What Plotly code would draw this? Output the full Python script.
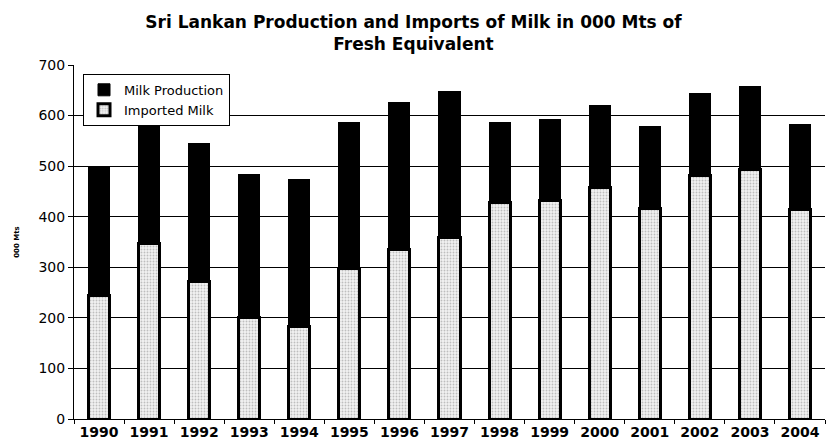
import plotly.graph_objects as go

# Sri Lankan milk supply, thousand metric tonnes of fresh-milk equivalent
years = ["1990", "1991", "1992", "1993", "1994", "1995", "1996", "1997",
         "1998", "1999", "2000", "2001", "2002", "2003", "2004"]
imported_milk = [245, 348, 272, 200, 183, 297, 336, 359,
                 429, 432, 458, 416, 481, 493, 414]
total_supply = [500, 607, 544, 484, 473, 587, 625, 647,
                587, 592, 619, 579, 644, 658, 582]
milk_production = [t - i for t, i in zip(total_supply, imported_milk)]

FONT = "DejaVu Sans"

fig = go.Figure()
fig.add_trace(go.Bar(
    x=years, y=imported_milk, name="Imported Milk",
    marker=dict(
        color="#ececec",
        line=dict(color="black", width=3),
        pattern=dict(shape=".", fgcolor="#8a8a8a", bgcolor="#f2f2f2",
                     size=3, solidity=0.3),
    ),
    width=0.42,
))
fig.add_trace(go.Bar(
    x=years, y=milk_production, name="Milk Production",
    marker=dict(color="black", line=dict(color="black", width=1)),
    width=0.42,
))

fig.update_layout(
    width=827, height=444,
    barmode="stack",
    paper_bgcolor="white", plot_bgcolor="white",
    margin=dict(l=74, r=2, t=65, b=25),
    title=dict(
        text="Sri Lankan Production and Imports of Milk in 000 Mts of<br>Fresh Equivalent",
        x=0.5, xanchor="center", yref="container", y=0.938, yanchor="top",
        font=dict(family=FONT, size=17, color="black", weight="bold"),
    ),
    font=dict(family=FONT, color="black"),
    showlegend=True,
    legend=dict(
        x=0.012, y=0.975, xanchor="left", yanchor="top",
        traceorder="reversed",
        bgcolor="white", bordercolor="black", borderwidth=1,
        font=dict(family=FONT, size=13, color="black"),
        itemwidth=30, tracegroupgap=0,
    ),
    xaxis=dict(
        type="category",
        showline=True, linecolor="black", linewidth=1,
        ticks="outside", tickson="boundaries", ticklen=4, tickcolor="black",
        tickfont=dict(family=FONT, size=14, color="black", weight="bold"),
        showgrid=False,
    ),
    yaxis=dict(
        range=[0, 700], dtick=100,
        showline=True, linecolor="black", linewidth=1,
        ticks="outside", ticklen=5, tickcolor="black",
        tickfont=dict(family=FONT, size=14, color="black"),
        showgrid=True, gridcolor="black", gridwidth=1,
        zeroline=False,
        title=dict(text="000 Mts", standoff=18,
                   font=dict(family=FONT, size=7, color="black", weight="bold")),
    ),
)

fig.write_html("out.html")
